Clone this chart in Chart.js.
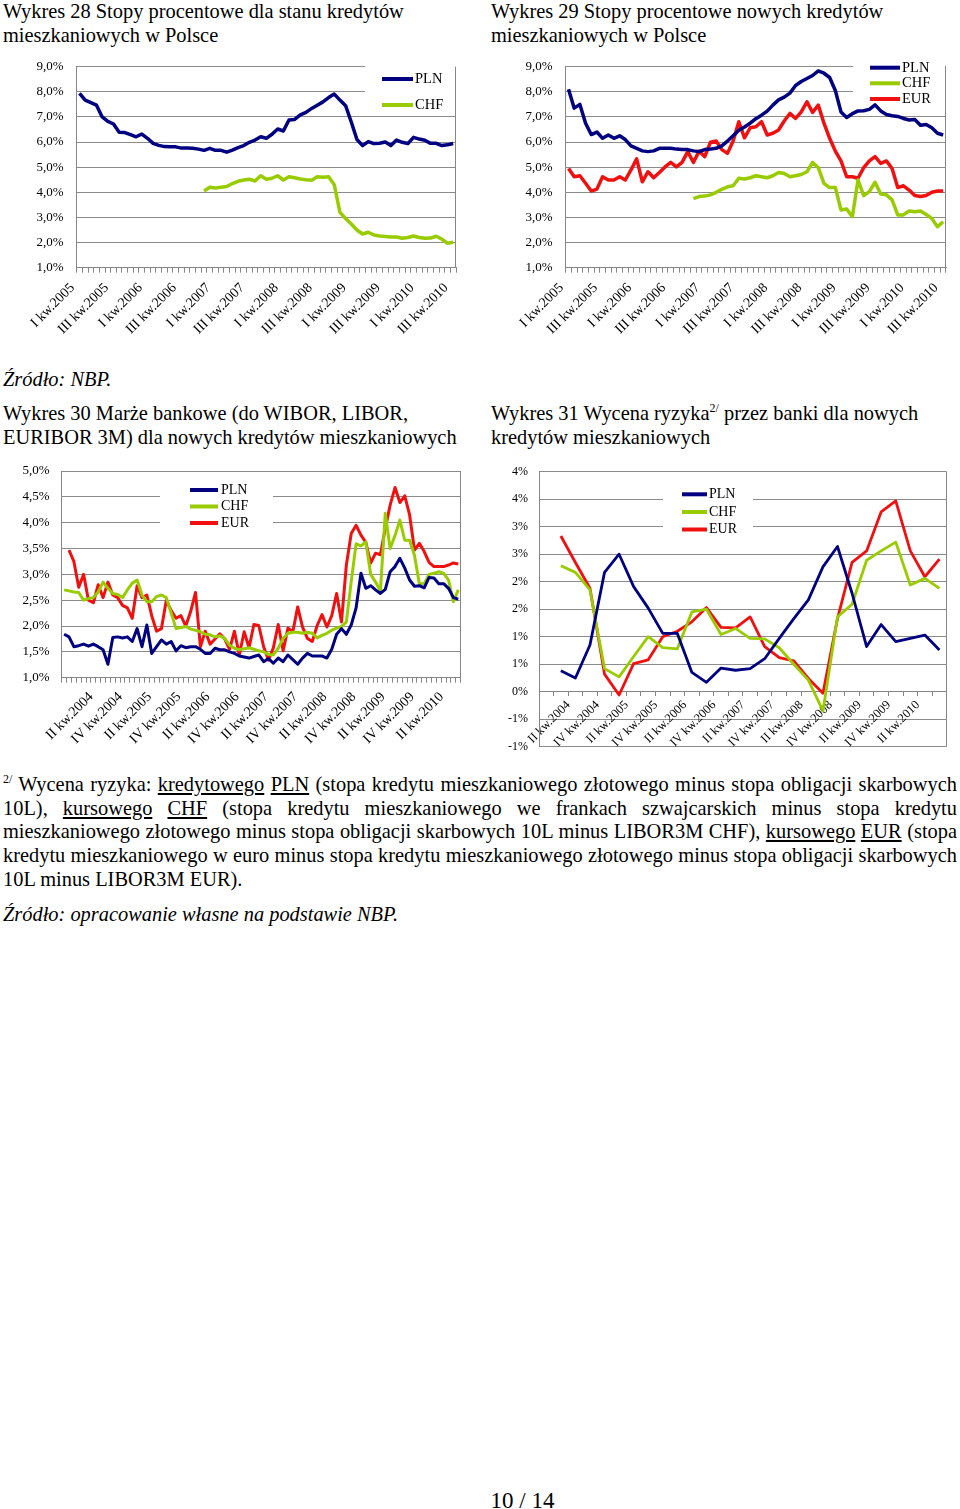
<!DOCTYPE html>
<html lang="pl">
<head>
<meta charset="utf-8">
<title>Wykresy 28-31</title>
<script src="https://cdn.jsdelivr.net/npm/chart.js@4.4.1/dist/chart.umd.min.js"></script>
<style>
  html, body { margin: 0; padding: 0; background: #fff; }
  body { width: 960px; height: 1509px; position: relative; overflow: hidden;
         font-family: 'Liberation Serif', 'Times New Roman', serif; color: #000; }
  .t { position: absolute; font-size: 20.4px; line-height: 24px; white-space: nowrap; }
  .it { font-style: italic; }
  canvas { position: absolute; }
  .note { position: absolute; left: 3px; top: 773px; width: 954px; font-size: 20.4px; line-height: 23.7px; }
  .note .j { text-align: justify; text-align-last: justify; }
  sup { font-size: 12px; line-height: 0; vertical-align: 8px; }
  .page { position: absolute; left: 0; width: 1045px; top: 1488px; text-align: center; font-size: 23px; line-height: 26px; }
</style>
</head>
<body>

<div class="t" style="left:3px; top:-1px;">Wykres 28 Stopy procentowe dla stanu kredytów<br>mieszkaniowych w Polsce</div>
<div class="t" style="left:491px; top:-1px;">Wykres 29 Stopy procentowe nowych kredytów<br>mieszkaniowych w Polsce</div>

<canvas id="c28" width="470" height="295" style="left:0; top:55px;"></canvas>
<canvas id="c29" width="470" height="295" style="left:490px; top:55px;"></canvas>

<div class="t it" style="left:3px; top:367px;">Źródło: NBP.</div>

<div class="t" style="left:3px; top:401px;">Wykres 30 Marże bankowe (do WIBOR, LIBOR,<br>EURIBOR 3M) dla nowych kredytów mieszkaniowych</div>
<div class="t" style="left:491px; top:401px;">Wykres 31 Wycena ryzyka<sup>2/</sup> przez banki dla nowych<br>kredytów mieszkaniowych</div>

<canvas id="c30" width="470" height="300" style="left:0; top:460px;"></canvas>
<canvas id="c31" width="470" height="300" style="left:490px; top:460px;"></canvas>

<div class="note">
  <div class="j"><sup>2/</sup> Wycena ryzyka: <u>kredytowego</u> <u>PLN</u> (stopa kredytu mieszkaniowego złotowego minus stopa obligacji skarbowych</div>
  <div class="j">10L), <u>kursowego</u> <u>CHF</u> (stopa kredytu mieszkaniowego we frankach szwajcarskich minus stopa kredytu</div>
  <div class="j">mieszkaniowego złotowego minus stopa obligacji skarbowych 10L minus LIBOR3M CHF), <u>kursowego</u> <u>EUR</u> (stopa</div>
  <div class="j">kredytu mieszkaniowego w euro minus stopa kredytu mieszkaniowego złotowego minus stopa obligacji skarbowych</div>
  <div>10L minus LIBOR3M EUR).</div>
</div>

<div class="t it" style="left:3px; top:902px;">Źródło: opracowanie własne na podstawie NBP.</div>

<div class="page">10 / 14</div>

<script>
// ---- Wykres 28: stopy dla stanu kredytow (miesiecznie, I 2005 - VII 2010)
const ticks28 = ['I kw.2005', 'III kw.2005', 'I kw.2006', 'III kw.2006', 'I kw.2007', 'III kw.2007',
                 'I kw.2008', 'III kw.2008', 'I kw.2009', 'III kw.2009', 'I kw.2010', 'III kw.2010'];
const pln28 = [7.94, 7.67, 7.57, 7.47, 7.0, 6.82, 6.72, 6.39, 6.38, 6.3,
               6.21, 6.32, 6.15, 5.95, 5.87, 5.82, 5.81, 5.81, 5.76, 5.76,
               5.75, 5.72, 5.67, 5.75, 5.67, 5.67, 5.6, 5.68, 5.78, 5.86,
               5.99, 6.08, 6.21, 6.15, 6.31, 6.52, 6.44, 6.88, 6.9, 7.08,
               7.18, 7.34, 7.47, 7.6, 7.77, 7.91, 7.67, 7.45, 6.8, 6.1,
               5.86, 6.02, 5.94, 5.95, 6.0, 5.86, 6.08, 5.99, 5.94, 6.19,
               6.12, 6.07, 5.95, 5.95, 5.86, 5.89, 5.94];
const chf28 = [null, null, null, null, null, null, null, null, null, null,
               null, null, null, null, null, null, null, null, null, null,
               null, null, 4.05, 4.2, 4.17, 4.2, 4.23, 4.35, 4.44, 4.49,
               4.52, 4.45, 4.66, 4.52, 4.56, 4.66, 4.49, 4.62, 4.58, 4.53,
               4.5, 4.48, 4.62, 4.6, 4.62, 4.3, 3.2, 2.96, 2.74, 2.5,
               2.34, 2.41, 2.3, 2.26, 2.24, 2.22, 2.22, 2.17, 2.2, 2.26,
               2.2, 2.17, 2.18, 2.25, 2.14, 1.97, 2.01];

// ---- Wykres 29: stopy nowych kredytow (miesiecznie, I 2005 - VII 2010)
const ticks29 = ticks28;
const pln29 = [8.1, 7.35, 7.5, 6.75, 6.3, 6.4, 6.15, 6.28, 6.15, 6.25,
               6.1, 5.85, 5.75, 5.65, 5.62, 5.65, 5.75, 5.75, 5.75, 5.72,
               5.7, 5.7, 5.65, 5.62, 5.7, 5.72, 5.75, 5.85, 6.04, 6.25,
               6.47, 6.6, 6.75, 6.93, 7.07, 7.23, 7.47, 7.68, 7.79, 7.95,
               8.25, 8.41, 8.53, 8.65, 8.83, 8.74, 8.57, 8.05, 7.2, 6.98,
               7.13, 7.24, 7.25, 7.3, 7.48, 7.24, 7.1, 7.05, 7.02, 6.94,
               6.88, 6.9, 6.67, 6.7, 6.57, 6.35, 6.28];
const chf29 = [null, null, null, null, null, null, null, null, null, null,
               null, null, null, null, null, null, null, null, null, null,
               null, null, 3.75, 3.83, 3.85, 3.9, 4.0, 4.12, 4.22, 4.26,
               4.56, 4.53, 4.58, 4.66, 4.62, 4.58, 4.66, 4.79, 4.75, 4.62,
               4.66, 4.71, 4.82, 5.19, 4.98, 4.36, 4.19, 4.19, 3.3, 3.34,
               3.03, 4.49, 3.87, 4.03, 4.4, 3.93, 3.9, 3.7, 3.1, 3.1,
               3.26, 3.23, 3.26, 3.12, 2.96, 2.63, 2.83];
const eur29 = [4.95, 4.62, 4.66, 4.36, 4.05, 4.13, 4.62, 4.49, 4.49, 4.62,
               4.49, 4.89, 5.33, 4.42, 4.82, 4.58, 4.79, 5.01, 5.19, 5.01,
               5.19, 5.62, 5.19, 5.64, 5.42, 5.99, 6.04, 5.7, 5.55, 6.04,
               6.81, 6.17, 6.57, 6.61, 6.81, 6.28, 6.35, 6.48, 6.84, 7.14,
               6.94, 7.2, 7.6, 7.18, 7.47, 6.75, 6.15, 5.64, 5.25, 4.62,
               4.62, 4.56, 4.98, 5.25, 5.42, 5.15, 5.25, 4.95, 4.19, 4.26,
               4.09, 3.87, 3.83, 3.87, 4.0, 4.05, 4.05];

// ---- Wykres 30: marze bankowe (miesiecznie)
const ticks30 = ['II kw.2004', 'IV kw.2004', 'II kw.2005', 'IV kw.2005', 'II kw.2006', 'IV kw.2006',
                 'II kw.2007', 'IV kw.2007', 'II kw.2008', 'IV kw.2008', 'II kw.2009', 'IV kw.2009', 'II kw.2010'];
const pln30 = [1.84, 1.79, 1.6, 1.62, 1.65, 1.61, 1.65, 1.6, 1.54, 1.26,
               1.78, 1.79, 1.77, 1.79, 1.7, 1.95, 1.6, 2.02, 1.47, 1.6,
               1.73, 1.65, 1.7, 1.52, 1.62, 1.58, 1.6, 1.6, 1.55, 1.47,
               1.47, 1.57, 1.54, 1.54, 1.5, 1.47, 1.42, 1.4, 1.38, 1.41,
               1.44, 1.31, 1.37, 1.28, 1.38, 1.31, 1.44, 1.35, 1.26, 1.38,
               1.47, 1.42, 1.42, 1.42, 1.38, 1.55, 1.84, 1.95, 1.84, 2.02,
               2.35, 3.02, 2.73, 2.78, 2.7, 2.63, 2.71, 3.05, 3.15, 3.31,
               3.12, 2.89, 2.77, 2.78, 2.74, 2.94, 2.93, 2.82, 2.82, 2.73,
               2.55, 2.52];
const chf30 = [2.7, 2.68, 2.66, 2.65, 2.5, 2.53, 2.55, 2.66, 2.85, 2.73,
               2.63, 2.61, 2.55, 2.7, 2.83, 2.89, 2.6, 2.47, 2.47, 2.57,
               2.6, 2.55, 2.25, 1.95, 1.97, 1.99, 1.94, 1.92, 1.89, 1.84,
               1.83, 1.79, 1.81, 1.76, 1.63, 1.57, 1.54, 1.56, 1.58, 1.55,
               1.52, 1.5, 1.45, 1.44, 1.57, 1.76, 1.86, 1.88, 1.88, 1.86,
               1.88, 1.86, 1.77, 1.82, 1.86, 1.92, 1.96, 1.99, 2.08, 2.86,
               3.59, 3.55, 3.63, 3.0, 2.85, 2.68, 4.18, 3.5, 3.75, 4.05,
               3.66, 3.66, 3.37, 2.82, 2.82, 3.0, 3.02, 3.05, 3.02, 2.89,
               2.47, 2.7];
const eur30 = [null, 3.47, 3.25, 2.75, 3.0, 2.5, 2.45, 2.8, 2.55, 2.85,
               2.6, 2.55, 2.4, 2.35, 2.15, 2.78, 2.55, 2.6, 2.2, 1.9,
               1.95, 2.5, 2.3, 2.15, 2.2, 2.0, 2.28, 2.65, 1.6, 1.9,
               1.65, 1.75, 1.85, 1.75, 1.55, 1.9, 1.44, 1.89, 1.58, 2.03,
               2.01, 1.6, 1.34, 1.58, 2.03, 1.52, 1.96, 1.89, 2.37, 1.98,
               1.76, 1.7, 2.01, 2.22, 1.98, 2.2, 2.63, 2.08, 3.18, 3.79,
               3.95, 3.76, 3.62, 3.22, 3.41, 3.38, 3.89, 4.34, 4.68, 4.39,
               4.52, 4.15, 3.47, 3.6, 3.44, 3.23, 3.15, 3.15, 3.15, 3.18,
               3.22, 3.2];

// ---- Wykres 31: wycena ryzyka (kwartalnie, IV 2003 - III 2010)
const ticks31 = ticks30;
const pln31 = [null, 0.38, 0.25, 0.85, 2.17, 2.5, 1.91, 1.52, 1.06, 1.06,
               0.35, 0.17, 0.43, 0.39, 0.42, 0.6, 0.97, 1.33, 1.67, 2.27,
               2.64, 1.79, 0.82, 1.22, 0.91, 0.97, 1.03, 0.76];
const chf31 = [null, 2.29, 2.17, 1.85, 0.42, 0.27, 0.64, 1.0, 0.8, 0.78,
               1.45, 1.5, 1.04, 1.15, 0.97, 0.96, 0.8, 0.5, 0.21, -0.35,
               1.36, 1.59, 2.39, 2.56, 2.72, 1.94, 2.06, 1.88];
const eur31 = [null, 2.83, 2.35, 1.88, 0.32, -0.06, 0.51, 0.58, 1.0, 1.1,
               1.27, 1.53, 1.17, 1.16, 1.36, 0.82, 0.62, 0.56, 0.24, -0.03,
               1.33, 2.35, 2.56, 3.27, 3.47, 2.56, 2.09, 2.41];

const COLOR_PLN = '#000080';
const COLOR_CHF = '#99CC00';
const COLOR_EUR = '#F01010';
const GRID = '#8c8c8c';
const AXIS = '#868686';

Chart.defaults.font.family = "'Liberation Serif', 'Times New Roman', serif";
Chart.defaults.color = '#000';

// spread sparse tick labels over the categories: label every `step` from `first`
function spreadLabels(count, ticks, first, step) {
    const out = [];
    for (let i = 0; i < count; i++) {
        const k = (i - first) / step;
        out.push(i >= first && Number.isInteger(k) && k < ticks.length ? ticks[k] : '');
    }
    return out;
}

// white legend box drawn inside the plot, like the Excel original
const boxLegend = {
    id: 'boxLegend',
    beforeDatasetsDraw(chart, args, o) {
        if (!o || !o.rows) return;
        const ctx = chart.ctx;
        ctx.save();
        ctx.fillStyle = '#fff';
        ctx.fillRect(o.x, o.y, o.w, o.h);
        ctx.restore();
    },
    afterDatasetsDraw(chart, args, o) {
        if (!o || !o.rows) return;
        const ctx = chart.ctx;
        ctx.save();
        chart.data.datasets.forEach((ds, i) => {
            const y = o.rows[i];
            ctx.strokeStyle = ds.borderColor;
            ctx.lineWidth = o.lineWidth;
            ctx.beginPath();
            ctx.moveTo(o.lineX, y);
            ctx.lineTo(o.lineX + o.lineLen, y);
            ctx.stroke();
            ctx.fillStyle = '#000';
            ctx.font = o.font;
            ctx.textBaseline = 'middle';
            ctx.fillText(ds.label, o.lineX + o.lineLen + o.gap, y);
        });
        ctx.restore();
    }
};

// thin frame line on the right side of the plot
const rightFrame = {
    id: 'rightFrame',
    afterDraw(chart) {
        const a = chart.chartArea;
        const ctx = chart.ctx;
        ctx.save();
        ctx.strokeStyle = AXIS;
        ctx.lineWidth = 1;
        ctx.beginPath();
        ctx.moveTo(Math.round(a.right) - 0.5, a.top);
        ctx.lineTo(Math.round(a.right) - 0.5, a.bottom);
        ctx.stroke();
        ctx.restore();
    }
};

function series(label, data, color, width) {
    return {
        label: label,
        data: data,
        borderColor: color,
        backgroundColor: color,
        borderWidth: width,
        pointRadius: 0,
        tension: 0,
        spanGaps: false,
        borderJoinStyle: 'round'
    };
}

function makeChart(id, cfg) {
    return new Chart(document.getElementById(id), {
        type: 'line',
        data: {
            labels: cfg.labels,
            datasets: cfg.datasets
        },
        plugins: [boxLegend, rightFrame],
        options: {
            responsive: false,
            animation: false,
            layout: { padding: cfg.padding },
            plugins: {
                legend: { display: false },
                tooltip: { enabled: false },
                boxLegend: cfg.legend
            },
            scales: {
                x: {
                    type: 'category',
                    offset: true,
                    position: cfg.xPosition || 'bottom',
                    grid: {
                        display: true,
                        offset: true,
                        drawOnChartArea: false,
                        drawTicks: true,
                        tickLength: cfg.xTickLength,
                        color: AXIS
                    },
                    border: { display: true, color: AXIS, width: 1 },
                    ticks: {
                        autoSkip: false,
                        minRotation: 45,
                        maxRotation: 45,
                        padding: cfg.xPad,
                        labelOffset: -7,
                        font: { size: cfg.xFont },
                        color: '#000'
                    },
                    afterFit: (s) => {
                        s.height = cfg.xHeight;
                        s.paddingLeft = 0;
                        s.paddingRight = 0;
                    }
                },
                y: {
                    min: cfg.yMin,
                    max: cfg.yMax,
                    grid: { color: GRID, drawTicks: false, lineWidth: 1 },
                    border: { display: true, color: AXIS, width: 1 },
                    ticks: {
                        stepSize: cfg.yStep,
                        padding: cfg.yPad,
                        font: { size: cfg.yFont },
                        color: '#000',
                        callback: cfg.yFormat
                    },
                    afterFit: (s) => {
                        s.width = cfg.yWidth;
                        s.paddingTop = 0;
                        s.paddingBottom = 0;
                    }
                }
            }
        }
    });
}

const pctOneDecimal = (v) => v.toFixed(1).replace('.', ',') + '%';
const pctRounded = (v) => (Math.sign(v) * Math.round(Math.abs(v))) + '%';

makeChart('c28', {
    labels: spreadLabels(pln28.length, ticks28, 0, 6),
    datasets: [series('PLN', pln28, COLOR_PLN, 3.5), series('CHF', chf28, COLOR_CHF, 3.5)],
    padding: { left: 0, top: 11.7, right: 14, bottom: 0 },
    yWidth: 76.7, xHeight: 82.3,
    yMin: 1, yMax: 9, yStep: 1, yFormat: pctOneDecimal, yPad: 13, yFont: 13,
    xTickLength: 5, xPad: 7, xFont: 14,
    legend: { x: 365, y: 6, w: 91, h: 52, rows: [24, 50], lineX: 382, lineLen: 31, gap: 2,
              lineWidth: 4, font: '14.5px "Liberation Serif", serif' }
});

makeChart('c29', {
    labels: spreadLabels(pln29.length, ticks29, 0, 6),
    datasets: [series('PLN', pln29, COLOR_PLN, 3.5), series('CHF', chf29, COLOR_CHF, 3.5),
               series('EUR', eur29, COLOR_EUR, 3.5)],
    padding: { left: 0, top: 11.7, right: 14, bottom: 0 },
    yWidth: 75.7, xHeight: 82.3,
    yMin: 1, yMax: 9, yStep: 1, yFormat: pctOneDecimal, yPad: 13, yFont: 13,
    xTickLength: 5, xPad: 7, xFont: 14,
    legend: { x: 363, y: 3, w: 92, h: 55, rows: [12.7, 28.3, 44], lineX: 380, lineLen: 30, gap: 2,
              lineWidth: 4, font: '14.5px "Liberation Serif", serif' }
});

makeChart('c30', {
    labels: spreadLabels(pln30.length, ticks30, 7, 6),
    datasets: [series('PLN', pln30, COLOR_PLN, 3), series('CHF', chf30, COLOR_CHF, 3),
               series('EUR', eur30, COLOR_EUR, 3)],
    padding: { left: 0, top: 11, right: 9.3, bottom: 0 },
    yWidth: 61.7, xHeight: 82.3,
    yMin: 1, yMax: 5, yStep: 0.5, yFormat: pctOneDecimal, yPad: 12, yFont: 13,
    xTickLength: 5, xPad: 6, xFont: 14,
    legend: { x: 160, y: 16, w: 113, h: 64, rows: [30, 46.5, 63], lineX: 190, lineLen: 28, gap: 3,
              lineWidth: 4, font: '14px "Liberation Serif", serif' }
});

makeChart('c31', {
    labels: spreadLabels(pln31.length, ticks31, 2, 2),
    datasets: [series('PLN', pln31, COLOR_PLN, 2.8), series('CHF', chf31, COLOR_CHF, 2.8),
               series('EUR', eur31, COLOR_EUR, 2.8)],
    padding: { left: 0, top: 11.7, right: 13.3, bottom: 13.3 },
    xPosition: { y: 0 },
    yWidth: 49, xHeight: 40,
    yMin: -1, yMax: 4, yStep: 0.5, yFormat: pctRounded, yPad: 11, yFont: 12,
    xTickLength: 4, xPad: 2, xFont: 12.5,
    legend: { x: 173, y: 20, w: 90, h: 65, rows: [34.3, 52, 69.5], lineX: 192, lineLen: 25, gap: 2,
              lineWidth: 4, font: '14px "Liberation Serif", serif' }
});
</script>
</body>
</html>
